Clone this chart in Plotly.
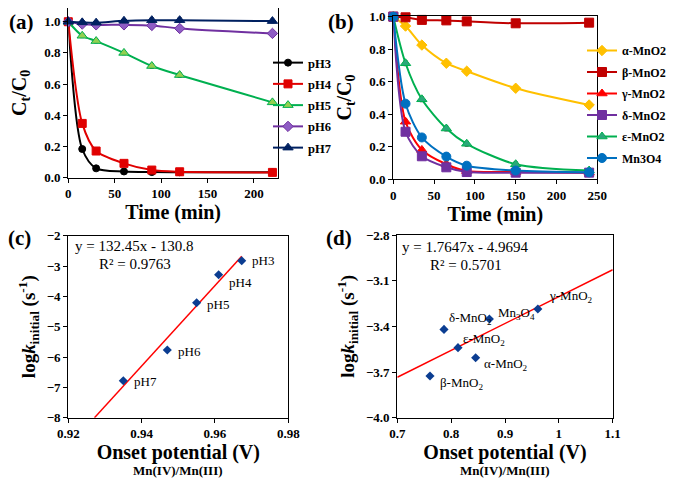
import numpy as np
import plotly.graph_objects as go

# ---------------- data ----------------
time_a = [0, 15, 30, 60, 90, 120, 220]
ph3 = [1.0, 0.184, 0.060, 0.040, 0.036, 0.035, 0.035]
ph4 = [1.0, 0.348, 0.171, 0.092, 0.049, 0.038, 0.034]
ph5 = [1.0, 0.910, 0.876, 0.800, 0.716, 0.658, 0.483]
ph6 = [1.0, 0.985, 0.980, 0.980, 0.976, 0.957, 0.925]
ph7 = [1.0, 0.996, 0.994, 1.006, 1.010, 1.010, 1.004]
err_a = [0.0, 0.012, 0.012, 0.012, 0.015, 0.015, 0.012]

time_b = [0, 15, 35, 65, 90, 150, 240]
alpha = [1.0, 0.942, 0.825, 0.713, 0.664, 0.559, 0.456]
beta = [1.0, 0.996, 0.980, 0.977, 0.971, 0.959, 0.963]
gamma = [1.0, 0.353, 0.179, 0.091, 0.049, 0.043, 0.039]
delta = [1.0, 0.291, 0.140, 0.072, 0.043, 0.039, 0.039]
eps = [1.0, 0.713, 0.491, 0.311, 0.217, 0.091, 0.052]
mn3o4 = [1.0, 0.464, 0.256, 0.138, 0.082, 0.052, 0.041]
err_b = [0.0, 0.015, 0.015, 0.015, 0.015, 0.015, 0.012]

onset_c = [0.9673, 0.961, 0.955, 0.947, 0.935]
logk_c = [-2.824, -3.286, -4.209, -5.769, -6.78]
labels_c = ["pH3", "pH4", "pH5", "pH6", "pH7"]
fit_c = [132.45, -130.8]

onset_d = [0.7607, 0.7867, 0.8127, 0.8455, 0.871, 0.961]
logk_d = [-3.726, -3.42, -3.54, -3.606, -3.352, -3.286]
labels_d = ["β-MnO<sub>2</sub>", "δ-MnO<sub>2</sub>", "ε-MnO<sub>2</sub>",
            "α-MnO<sub>2</sub>", "Mn<sub>3</sub>O<sub>4</sub>", "γ-MnO<sub>2</sub>"]
fit_d = [1.7647, -4.9694]

SERIF = "Liberation Serif"
OFF = 8                     # page body margin
W, H = 675 - OFF, 479 - OFF  # figure size


def px_x(p):
    return min(1.0, max(0.0, (p - OFF) / W))


def px_y(p):
    return min(1.0, max(0.0, 1 - (p - OFF) / H))


fig = go.Figure()

# ---------------- panel (a) ----------------
series_a = [
    ("pH3", ph3, "#000000", "#000000", "circle", 7, None),
    ("pH4", ph4, "#E00000", "#E00000", "square", 8, None),
    ("pH5", ph5, "#00B050", "#92D050", "triangle-up", 9, err_a),
    ("pH6", ph6, "#7030A0", "#8E5CC4", "diamond", 8, err_a),
    ("pH7", ph7, "#002060", "#002060", "triangle-up", 9, err_a),
]
for name, ys, lc, fc, sym, sz, err in series_a:
    fig.add_trace(go.Scatter(
        x=time_a, y=ys, name=name, mode="lines+markers", legendgroup=name,
        line=dict(color=lc, width=2, shape="spline", smoothing=0.8),
        marker=dict(symbol=sym, size=sz, color=fc, line=dict(color=lc, width=1)),
        error_y=dict(type="data", array=err, color="#333333", thickness=1, width=2, visible=err is not None),
        xaxis="x", yaxis="y", legend="legend", cliponaxis=False,
    ))

# ---------------- panel (b) ----------------
series_b = [
    ("α-MnO2", alpha, "#FFC000", "#FFC000", "diamond", 8),
    ("β-MnO2", beta, "#C00000", "#C00000", "square", 9),
    ("γ-MnO2", gamma, "#FF0000", "#FF0000", "triangle-up", 9),
    ("δ-MnO2", delta, "#7030A0", "#7030A0", "square", 9),
    ("ε-MnO2", eps, "#00B050", "#2AA879", "triangle-up", 9),
    ("Mn3O4", mn3o4, "#0070C0", "#0070C0", "circle", 9),
]
for name, ys, lc, fc, sym, sz in series_b:
    fig.add_trace(go.Scatter(
        x=time_b, y=ys, name=name, mode="lines+markers", legendgroup=name,
        line=dict(color=lc, width=2, shape="spline", smoothing=0.8),
        marker=dict(symbol=sym, size=sz, color=fc, line=dict(color=lc, width=1)),
        error_y=dict(type="data", array=err_b, color="#333333", thickness=1, width=2),
        xaxis="x2", yaxis="y2", legend="legend2", cliponaxis=False,
    ))

# ---------------- panel (c) ----------------
xc0 = (-8 - fit_c[1]) / fit_c[0]
xc1 = max(onset_c)
xc_line = np.array([xc0, xc1])
fig.add_trace(go.Scatter(x=xc_line, y=fit_c[0] * xc_line + fit_c[1], mode="lines",
                         line=dict(color="#FF0000", width=1.5), showlegend=False,
                         xaxis="x3", yaxis="y3"))
fig.add_trace(go.Scatter(x=onset_c, y=logk_c, mode="markers",
                         marker=dict(symbol="diamond", size=7, color="#0B3D91"),
                         showlegend=False, xaxis="x3", yaxis="y3"))

# ---------------- panel (d) ----------------
xd_line = np.array([0.7, 1.1])
fig.add_trace(go.Scatter(x=xd_line, y=fit_d[0] * xd_line + fit_d[1], mode="lines",
                         line=dict(color="#FF0000", width=1.5), showlegend=False,
                         xaxis="x4", yaxis="y4"))
fig.add_trace(go.Scatter(x=onset_d, y=logk_d, mode="markers",
                         marker=dict(symbol="diamond", size=7, color="#0B3D91"),
                         showlegend=False, xaxis="x4", yaxis="y4"))

# ---------------- axes ----------------
tickfont = dict(family=SERIF, size=13, color="black", weight="bold")
titlefont = dict(family=SERIF, size=20, color="black", weight="bold")


def ax(domain, rng, dtick, anchor, title=None, fmt=None, standoff=6, tickvals=None, tsize=20):
    d = dict(domain=domain, range=rng, dtick=dtick, anchor=anchor, automargin=False,
             showline=True, mirror=True, linecolor="black", linewidth=1.2,
             ticks="outside", ticklen=4, tickcolor="black", showgrid=False,
             zeroline=False, tickfont=tickfont, ticklabeloverflow="allow")
    if tickvals is not None:
        d["tickvals"] = tickvals
        d.pop("dtick")
    if fmt:
        d["tickformat"] = fmt
    if title:
        d["title"] = dict(text=title, font=dict(titlefont, size=tsize), standoff=standoff)
    return d


dom_a_x = [px_x(68.3), px_x(278)]
dom_a_y = [px_y(177.7), px_y(8)]
dom_b_x = [px_x(393.3), px_x(597.3)]
dom_b_y = [px_y(179), px_y(16)]
dom_c_x = [px_x(68.3), px_x(288.3)]
dom_c_y = [px_y(417.7), px_y(235.7)]
dom_d_x = [px_x(397.3), px_x(612.7)]
dom_d_y = [px_y(417.7), px_y(235)]

ct_title = "C<sub>t</sub>/C<sub>0</sub>"
logk_title = "log<i>k</i><sub>initial</sub> (s<sup>-1</sup>)"

legfont_a = dict(family=SERIF, size=12.5, color="black", weight="bold")
legfont_b = dict(family=SERIF, size=12, color="black", weight="bold")
fig.update_layout(
    template="none",
    width=W, height=H,
    margin=dict(l=0, r=0, t=0, b=0, autoexpand=False),
    paper_bgcolor="white", plot_bgcolor="white",
    font=dict(family=SERIF, color="black"),
    xaxis=ax(dom_a_x, [0, 226], 50, "y", "Time (min)", standoff=1),
    yaxis=ax(dom_a_y, [0, 1.088], 0.2, "x", ct_title, fmt=".1f", standoff=16),
    xaxis2=ax(dom_b_x, [0, 250], 50, "y2", "Time (min)", standoff=1),
    yaxis2=ax(dom_b_y, [0, 1.004], 0.2, "x2", ct_title, fmt=".1f", standoff=12),
    xaxis3=ax(dom_c_x, [0.92, 0.98], 0.02, "y3", "Onset potential (V)", fmt=".2f", standoff=2),
    yaxis3=ax(dom_c_y, [-8, -2], 1, "x3", logk_title, standoff=6, tsize=19),
    xaxis4=ax(dom_d_x, [0.7, 1.1], 0.1, "y4", "Onset potential (V)", standoff=2),
    yaxis4=ax(dom_d_y, [-4.0, -2.8], None, "x4", logk_title, fmt=".1f", standoff=6, tsize=19,
              tickvals=[-4.0, -3.7, -3.4, -3.1, -2.8]),
    legend=dict(x=px_x(268), y=px_y(48), xanchor="left", yanchor="top",
                bgcolor="rgba(0,0,0,0)", font=legfont_a, itemwidth=30, tracegroupgap=2),
    legend2=dict(x=px_x(582), y=px_y(36), xanchor="left", yanchor="top",
                 bgcolor="rgba(0,0,0,0)", font=legfont_b, itemwidth=30, tracegroupgap=2.5),
)

# ---------------- annotations ----------------
ann = []
panel_font = dict(family=SERIF, size=21, color="black", weight="bold")
for txt, xp, yp in [("(a)", 21, 22), ("(b)", 341, 22), ("(c)", 20, 238), ("(d)", 339, 238)]:
    ann.append(dict(text=txt, x=px_x(xp), y=px_y(yp), xref="paper", yref="paper",
                    showarrow=False, font=panel_font, xanchor="center", yanchor="middle"))

sub_font = dict(family=SERIF, size=13, color="black", weight="bold")
for xp in [178, 505]:
    ann.append(dict(text="Mn(IV)/Mn(III)", x=px_x(xp), y=px_y(470), xref="paper", yref="paper",
                    showarrow=False, font=sub_font, xanchor="center", yanchor="middle"))

eq_font = dict(family=SERIF, size=15, color="black")
ann.append(dict(text="y = %.2fx - %.1f" % (fit_c[0], -fit_c[1]), x=px_x(73), y=px_y(246),
                xref="paper", yref="paper", showarrow=False, font=eq_font, xanchor="left", yanchor="middle"))
ann.append(dict(text="R² = 0.9763", x=px_x(97), y=px_y(264), xref="paper", yref="paper",
                showarrow=False, font=eq_font, xanchor="left", yanchor="middle"))
ann.append(dict(text="y = %.4fx - %.4f" % (fit_d[0], -fit_d[1]), x=px_x(400), y=px_y(247),
                xref="paper", yref="paper", showarrow=False, font=eq_font, xanchor="left", yanchor="middle"))
ann.append(dict(text="R² = 0.5701", x=px_x(428), y=px_y(265), xref="paper", yref="paper",
                showarrow=False, font=eq_font, xanchor="left", yanchor="middle"))

lab_font = dict(family=SERIF, size=13, color="black")
shifts_c = [(8, 0), (8, -8), (8, -2), (9, -1), (9, -1)]
for xv, yv, t, (dx, dy) in zip(onset_c, logk_c, labels_c, shifts_c):
    ann.append(dict(text=t, x=xv, y=yv, xref="x3", yref="y3", showarrow=False, font=lab_font,
                    xanchor="left", yanchor="middle", xshift=dx, yshift=dy))
shifts_d = [(8, -8), (3, 11), (3, 8), (6, -7), (7, 6), (9, 12)]
for xv, yv, t, (dx, dy) in zip(onset_d, logk_d, labels_d, shifts_d):
    ann.append(dict(text=t, x=xv, y=yv, xref="x4", yref="y4", showarrow=False, font=lab_font,
                    xanchor="left", yanchor="middle", xshift=dx, yshift=dy))

fig.update_layout(annotations=ann)
fig.write_html("out.html")
